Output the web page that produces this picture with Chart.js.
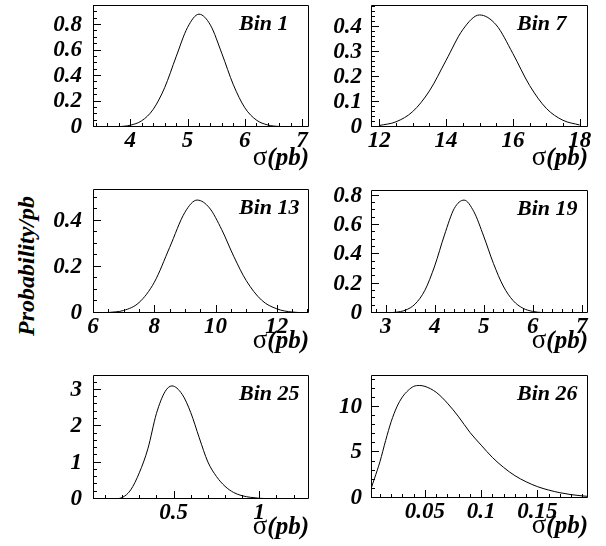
<!DOCTYPE html>
<html>
<head>
<meta charset="utf-8">
<title>Probability/pb</title>
<script src="https://cdn.jsdelivr.net/npm/chart.js@4.4.1/dist/chart.umd.min.js"></script>
<style>
  body { margin: 0; background: #fff; }
  #wrap { position: relative; width: 606px; height: 546px; overflow: hidden; }
  canvas { position: absolute; }
  #ytitle {
    position: absolute; left: 26px; top: 266px;
    transform: translate(-50%, -50%) rotate(-90deg);
    font: italic bold 24px "Liberation Serif", serif;
    white-space: nowrap; color: #000;
  }
</style>
</head>
<body>
<div id="wrap">
  <div id="ytitle">Probability/pb</div>
  <canvas id="c1"></canvas>
  <canvas id="c2"></canvas>
  <canvas id="c3"></canvas>
  <canvas id="c4"></canvas>
  <canvas id="c5"></canvas>
  <canvas id="c6"></canvas>
</div>
<script>
// panel labels
const binLabels = ['Bin 1', 'Bin 7', 'Bin 13', 'Bin 19', 'Bin 25', 'Bin 26']

// Bin 1
const sigma1 = [3.6, 3.8, 4.0, 4.2, 4.4, 4.6, 4.8, 5.0, 5.2, 5.4, 5.6, 5.8, 6.0, 6.2, 6.4, 6.6, 6.8, 7.0]
const prob1 = [0.001, 0.003, 0.014, 0.049, 0.138, 0.308, 0.55, 0.781, 0.885, 0.799, 0.575, 0.331, 0.151, 0.055, 0.016, 0.004, 0.001, 0]
const xTicks1 = [4, 5, 6, 7]
const yTicks1 = [0, 0.2, 0.4, 0.6, 0.8]

// Bin 7
const sigma7 = [12.0, 12.5, 13.0, 13.5, 14.0, 14.5, 15.0, 15.5, 16.0, 16.5, 17.0, 17.5, 18.0]
const prob7 = [0.006, 0.021, 0.062, 0.145, 0.268, 0.391, 0.45, 0.41, 0.295, 0.167, 0.075, 0.027, 0.008]
const xTicks7 = [12, 14, 16, 18]
const yTicks7 = [0, 0.1, 0.2, 0.3, 0.4]

// Bin 13
const sigma13 = [6.5, 7.0, 7.5, 8.0, 8.5, 9.0, 9.4, 9.8, 10.2, 10.6, 11.0, 11.5, 12.0, 12.5, 13.0]
const prob13 = [0.002, 0.011, 0.045, 0.133, 0.284, 0.437, 0.49, 0.456, 0.362, 0.244, 0.141, 0.056, 0.018, 0.004, 0.001]
const xTicks13 = [6, 8, 10, 12]
const yTicks13 = [0, 0.2, 0.4]

// Bin 19
const sigma19 = [2.8, 3.0, 3.2, 3.4, 3.6, 3.8, 4.0, 4.2, 4.4, 4.6, 4.8, 5.0, 5.2, 5.4, 5.6, 5.8, 6.0, 6.2, 6.4, 6.6, 6.8, 7.0]
const prob19 = [0, 0.001, 0.005, 0.019, 0.061, 0.155, 0.321, 0.533, 0.714, 0.771, 0.692, 0.525, 0.338, 0.184, 0.085, 0.033, 0.011, 0.003, 0.001, 0, 0, 0]
const xTicks19 = [3, 4, 5, 6, 7]
const yTicks19 = [0, 0.2, 0.4, 0.6, 0.8]

// Bin 25
const sigma25 = [0.15, 0.2, 0.25, 0.3, 0.35, 0.4, 0.45, 0.49, 0.55, 0.6, 0.65, 0.7, 0.75, 0.8, 0.85, 0.9, 0.95, 1.0, 1.05, 1.1, 1.15]
const prob25 = [0, 0.04, 0.25, 0.72, 1.38, 2.35, 2.95, 3.11, 2.88, 2.38, 1.68, 1.02, 0.62, 0.35, 0.18, 0.09, 0.045, 0.02, 0.009, 0.003, 0]
const xTicks25 = [0.5, 1]
const yTicks25 = [0, 1, 2, 3]

// Bin 26
const sigma26 = [0.002, 0.005, 0.01, 0.015, 0.02, 0.025, 0.03, 0.035, 0.04, 0.045, 0.05, 0.06, 0.07, 0.08, 0.09, 0.1, 0.11, 0.12, 0.13, 0.14, 0.15, 0.16, 0.17, 0.18, 0.19, 0.195]
const prob26 = [1.0, 2.1, 4.0, 6.3, 8.4, 10.0, 11.1, 11.8, 12.25, 12.35, 12.25, 11.6, 10.4, 8.9, 7.2, 5.8, 4.45, 3.35, 2.45, 1.78, 1.25, 0.87, 0.58, 0.37, 0.23, 0.18]
const xTicks26 = [0.05, 0.1, 0.15]
const yTicks26 = [0, 5, 10]

const FONT = '"Liberation Serif", serif'

// axis ranges, minor tick steps and frame placement for each pad
const panels = [
  { id: 'c1', label: binLabels[0], xs: sigma1, ys: prob1, xTicks: xTicks1, yTicks: yTicks1,
    xMin: 3.35, xMax: 7.12, yMax: 0.957, xMinor: 0.2, yMinor: 0.05,
    left: 0, top: 0, width: 312, height: 180, frameLeft: 93, frameTop: 5, frameRight: 309, frameBottom: 127, labelPad: 11, titleGap: 38 },
  { id: 'c2', label: binLabels[1], xs: sigma7, ys: prob7, xTicks: xTicks7, yTicks: yTicks7,
    xMin: 11.75, xMax: 18.25, yMax: 0.49, xMinor: 0.5, yMinor: 0.02,
    left: 312, top: 0, width: 294, height: 180, frameLeft: 371, frameTop: 5, frameRight: 588, frameBottom: 127, labelPad: 9, titleGap: 38 },
  { id: 'c3', label: binLabels[2], xs: sigma13, ys: prob13, xTicks: xTicks13, yTicks: yTicks13,
    xMin: 6, xMax: 13.05, yMax: 0.538, xMinor: 0.5, yMinor: 0.05,
    left: 0, top: 180, width: 312, height: 180, frameLeft: 93, frameTop: 189, frameRight: 309, frameBottom: 313, labelPad: 11, titleGap: 35 },
  { id: 'c4', label: binLabels[3], xs: sigma19, ys: prob19, xTicks: xTicks19, yTicks: yTicks19,
    xMin: 2.7, xMax: 7.13, yMax: 0.84, xMinor: 0.2, yMinor: 0.05,
    left: 312, top: 180, width: 294, height: 180, frameLeft: 371, frameTop: 190, frameRight: 588, frameBottom: 313, labelPad: 9, titleGap: 35 },
  { id: 'c5', label: binLabels[4], xs: sigma25, ys: prob25, xTicks: xTicks25, yTicks: yTicks25,
    xMin: 0.03, xMax: 1.29, yMax: 3.41, xMinor: 0.1, yMinor: 0.2,
    left: 0, top: 360, width: 312, height: 186, frameLeft: 93, frameTop: 375, frameRight: 309, frameBottom: 499, labelPad: 11, titleGap: 35 },
  { id: 'c6', label: binLabels[5], xs: sigma26, ys: prob26, xTicks: xTicks26, yTicks: yTicks26,
    xMin: 0.002, xMax: 0.195, yMax: 13.5, xMinor: 0.01, yMinor: 1,
    left: 312, top: 360, width: 294, height: 186, frameLeft: 371, frameTop: 375, frameRight: 588, frameBottom: 498, labelPad: 9, titleGap: 35 },
]

function minorValues(min, max, step) {
  const out = []
  for (let i = Math.ceil(min / step - 1e-6); i * step <= max + 1e-9; i++) out.push(i * step)
  return out
}

// frame, inward ticks, bin label and sigma axis title
const padDecor = {
  id: 'padDecor',
  afterDatasetsDraw(chart, args, opts) {
    const { ctx, chartArea: a, scales: { x, y } } = chart
    ctx.save()
    ctx.strokeStyle = '#000'
    ctx.lineWidth = 1
    ctx.beginPath()
    ctx.rect(a.left + 0.5, a.top + 0.5, a.right - a.left - 1, a.bottom - a.top - 1)
    const xTick = (v, len) => {
      const px = Math.round(x.getPixelForValue(v)) + 0.5
      if (px < a.left || px > a.right) return
      ctx.moveTo(px, a.bottom)
      ctx.lineTo(px, a.bottom - len)
    }
    const yTick = (v, len) => {
      const py = Math.round(y.getPixelForValue(v)) - 0.5
      if (py < a.top || py > a.bottom) return
      ctx.moveTo(a.left, py)
      ctx.lineTo(a.left + len, py)
    }
    minorValues(x.min, x.max, opts.xMinor).forEach(v => xTick(v, 4))
    minorValues(y.min, y.max, opts.yMinor).forEach(v => yTick(v, 4))
    opts.xTicks.forEach(v => xTick(v, 8))
    opts.yTicks.forEach(v => yTick(v, 8))
    ctx.stroke()

    ctx.fillStyle = '#000'
    ctx.textBaseline = 'alphabetic'
    ctx.textAlign = 'left'
    ctx.font = 'italic bold 22px ' + FONT
    ctx.fillText(opts.label, a.left + 146, a.top + 25)

    // σ(pb): sigma upright, the unit in bold italic
    const ty = a.bottom + opts.titleGap
    ctx.textAlign = 'right'
    ctx.font = 'italic bold 25px ' + FONT
    ctx.fillText('(pb)', a.right, ty)
    const w = ctx.measureText('(pb)').width
    ctx.font = '27px ' + FONT
    ctx.fillText('σ', a.right - w, ty)
    ctx.restore()
  }
}

// keep label overhang from shifting the frame
function noPadding(scale) {
  scale.paddingLeft = 0
  scale.paddingRight = 0
  scale.paddingTop = 0
  scale.paddingBottom = 0
}

panels.forEach(p => {
  const canvas = document.getElementById(p.id)
  canvas.width = p.width
  canvas.height = p.height
  canvas.style.left = p.left + 'px'
  canvas.style.top = p.top + 'px'

  const tickFont = { family: FONT, size: 23, style: 'italic', weight: 'bold' }

  new Chart(canvas.getContext('2d'), {
    type: 'line',
    data: {
      datasets: [{
        data: p.xs.map((v, i) => ({ x: v, y: p.ys[i] })),
        borderColor: '#000',
        borderWidth: 1,
        pointRadius: 0,
        fill: false,
        cubicInterpolationMode: 'monotone',
      }],
    },
    options: {
      responsive: false,
      animation: false,
      events: [],
      layout: {
        padding: { top: p.frameTop - p.top, right: p.left + p.width - p.frameRight, left: 0, bottom: 0 },
      },
      plugins: {
        legend: { display: false },
        tooltip: { enabled: false },
        padDecor: { label: p.label, xTicks: p.xTicks, yTicks: p.yTicks, xMinor: p.xMinor, yMinor: p.yMinor, titleGap: p.titleGap },
      },
      scales: {
        x: {
          type: 'linear',
          min: p.xMin,
          max: p.xMax,
          grid: { display: false, drawTicks: false },
          border: { display: false },
          afterBuildTicks: scale => { scale.ticks = p.xTicks.map(v => ({ value: v })) },
          afterFit: scale => {
            scale.height = p.top + p.height - p.frameBottom
            noPadding(scale)
          },
          ticks: { autoSkip: false, maxRotation: 0, padding: 0, color: '#000', font: tickFont, callback: v => String(v) },
        },
        y: {
          min: 0,
          max: p.yMax,
          grid: { display: false, drawTicks: false },
          border: { display: false },
          afterBuildTicks: scale => { scale.ticks = p.yTicks.map(v => ({ value: v })) },
          afterFit: scale => {
            scale.width = p.frameLeft - p.left
            noPadding(scale)
          },
          ticks: { autoSkip: false, padding: p.labelPad, color: '#000', font: tickFont, callback: v => String(v) },
        },
      },
    },
    plugins: [padDecor],
  })
})
</script>
</body>
</html>
